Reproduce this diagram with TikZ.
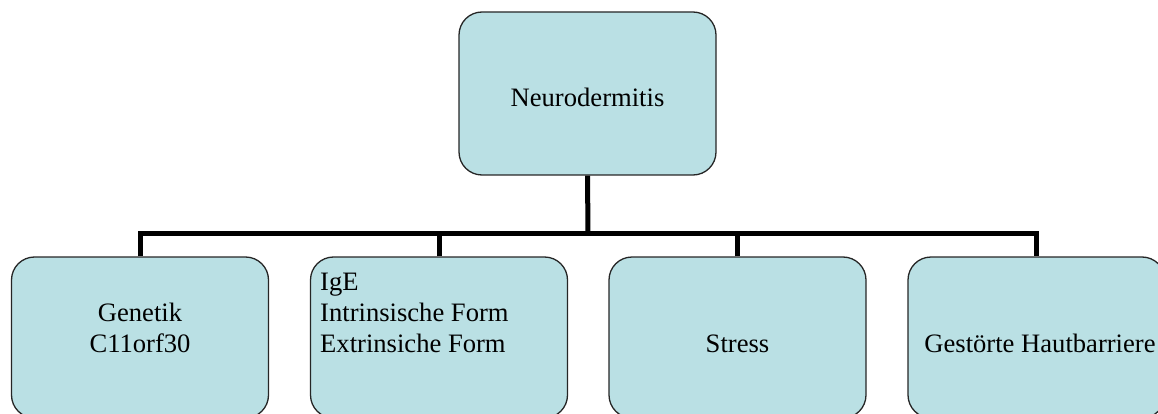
\documentclass[tikz,border=0pt]{standalone}
\usepackage{fontspec}
\setmainfont{Liberation Serif}
\definecolor{boxfill}{RGB}{186,224,228}
\begin{document}
\begin{tikzpicture}[x=1pt,y=-1pt,
  box/.style={draw=black!85, line width=1.3pt, fill=boxfill, rounded corners=23pt,
    minimum width=257pt, minimum height=163pt, inner sep=0pt},
  bbox/.style={box, minimum height=161pt},
  conn/.style={line width=5pt, line join=miter},
  lbl/.style={font=\fontsize{26.6}{31}\selectfont, anchor=base, inner sep=0pt},
  lbll/.style={lbl, anchor=base west}]
\useasboundingbox (0,0) rectangle (1158,414);
\clip (0,0) rectangle (1158,414);
% nodes
\node[box] (top) at (587.5,93.5) {};
\node[bbox] (b1) at (140,337.5) {};
\node[bbox] (b2) at (439,337.5) {};
\node[bbox] (b3) at (737.5,337.5) {};
\node[bbox] (b4) at (1036.5,337.5) {};
\coordinate (j) at (588,233);
% connectors
\draw[conn] (top.south) -- (j);
\draw[conn] (b1.north) -- (b1.north |- j) -- (b4.north |- j) -- (b4.north);
\draw[conn] (b2.north) -- (b2.north |- j);
\draw[conn] (b3.north) -- (b3.north |- j);
% labels
\node[lbl] (ttop) at (587.5,107) {Neurodermitis};
\node[lbl] (t1a) at (140,321) {Genetik};
\node[lbl] (t1b) at (140,352) {C11orf30};
\node[lbll] (t2a) at (320,290) {IgE};
\node[lbll] (t2b) at (320,321) {Intrinsische Form};
\node[lbll] (t2c) at (320,352) {Extrinsiche Form};
\node[lbl] (t3) at (737.5,352) {Stress};
\node[lbl] (t4) at (1040,352) {Gestörte Hautbarriere};
\end{tikzpicture}
\end{document}
